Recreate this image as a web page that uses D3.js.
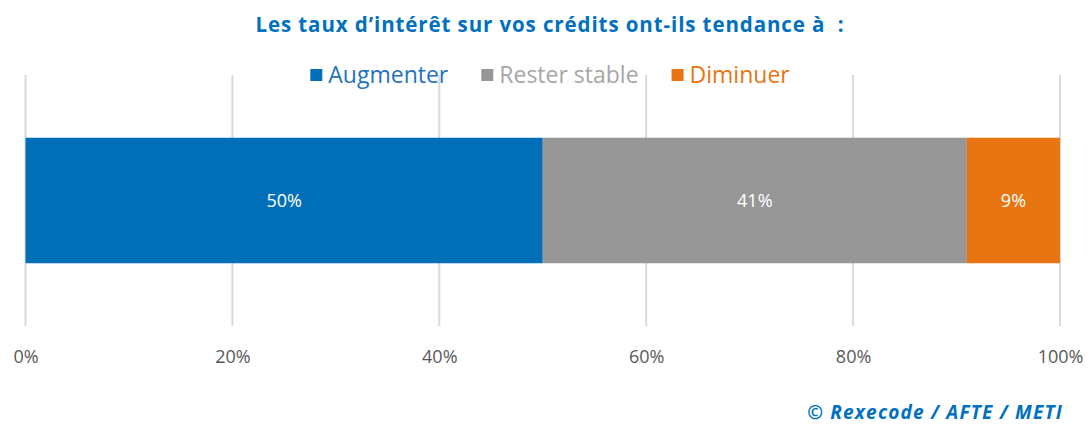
<!DOCTYPE html>
<html>
<head>
<meta charset="utf-8">
<script src="https://cdn.jsdelivr.net/npm/d3@7"></script>
<style>
  body { margin: 0; background: #fff; }
  text { font-family: "Open Sans", sans-serif; }
</style>
</head>
<body>
<div id="chart"></div>
<script>
// Chart data
const SERIES = ["Augmenter", "Rester stable", "Diminuer"];
const VALUES = [50, 41, 9];
const COLORS = ["#006fb8", "#979797", "#e87511"];
const TEXT_COLORS = ["#1f73be", "#a6a6a6", "#e87511"];
const TICKS = [0, 20, 40, 60, 80, 100];
const TITLE = "Les taux d\u2019intérêt sur vos crédits ont-ils tendance à \u00a0:";
const SOURCE = "© Rexecode / AFTE / METI";

const FRAME_WIDTH = 1091;
const FRAME_HEIGHT = 425;
const MARGINS = {left: 25.5, right: 31, top: 75, bottom: 99};

const svg = d3.select("#chart")
  .append("svg")
    .attr("width", FRAME_WIDTH)
    .attr("height", FRAME_HEIGHT);

const xScale = d3.scaleLinear()
  .domain([0, 100])
  .range([MARGINS.left, FRAME_WIDTH - MARGINS.right]);

const yScale = d3.scaleBand()
  .domain(["row"])
  .range([MARGINS.top, FRAME_HEIGHT - MARGINS.bottom])
  .paddingInner(0)
  .paddingOuter(0.5);

// gridlines
svg.append("g")
  .selectAll("line")
  .data(TICKS)
  .enter().append("line")
    .attr("x1", d => xScale(d))
    .attr("x2", d => xScale(d))
    .attr("y1", MARGINS.top)
    .attr("y2", FRAME_HEIGHT - MARGINS.bottom)
    .attr("stroke", "#d9d9d9")
    .attr("stroke-width", 2);

// x axis labels
const xAxis = svg.append("g")
  .attr("transform", "translate(0," + (FRAME_HEIGHT - MARGINS.bottom) + ")")
  .call(d3.axisBottom(xScale).tickValues(TICKS).tickFormat(d => d + "%").tickSize(0).tickPadding(24));
xAxis.select(".domain").remove();
xAxis.selectAll("text")
  .attr("font-family", "'Open Sans', sans-serif")
  .attr("font-size", 18)
  .attr("fill", "#595959");

// stacked bar
let cum = 0;
const stacked = VALUES.map((v, i) => {
  const seg = {name: SERIES[i], start: cum, end: cum + v, value: v, i: i};
  cum += v;
  return seg;
});

const bar = svg.append("g");
bar.selectAll("rect")
  .data(stacked)
  .enter().append("rect")
    .attr("x", d => xScale(d.start))
    .attr("y", yScale("row"))
    .attr("width", d => xScale(d.end) - xScale(d.start))
    .attr("height", yScale.bandwidth())
    .attr("fill", d => COLORS[d.i]);

bar.selectAll("text")
  .data(stacked)
  .enter().append("text")
    .attr("x", d => (xScale(d.start) + xScale(d.end)) / 2)
    .attr("y", yScale("row") + yScale.bandwidth() / 2)
    .attr("dy", "0.35em")
    .attr("text-anchor", "middle")
    .attr("font-size", 18)
    .attr("fill", "#fff")
    .text(d => d.value + "%");

// title
svg.append("text")
  .attr("x", 550)
  .attr("y", 32)
  .attr("text-anchor", "middle")
  .attr("font-size", 20.5)
  .attr("font-weight", "bold")
  .attr("letter-spacing", 0.9)
  .attr("fill", "#0070c0")
  .text(TITLE);

// legend, centred
const legend = svg.append("g").attr("transform", "translate(0,75)");
const items = legend.selectAll("g")
  .data(SERIES)
  .enter().append("g");
items.append("rect")
  .attr("width", 12)
  .attr("height", 12)
  .attr("y", -6)
  .attr("fill", (d, i) => COLORS[i]);
items.append("text")
  .attr("x", 18)
  .attr("dy", "0.35em")
  .attr("font-size", 23)
  .attr("fill", (d, i) => TEXT_COLORS[i])
  .text(d => d);

let lx = 0;
const widths = [];
items.each(function() {
  const w = 18 + d3.select(this).select("text").node().getComputedTextLength();
  widths.push(w);
});
const gap = 33;
const total = d3.sum(widths) + gap * (widths.length - 1);
lx = 550 - total / 2;
items.attr("transform", (d, i) => {
  const t = "translate(" + lx + ",0)";
  lx += widths[i] + gap;
  return t;
});

// source
svg.append("text")
  .attr("x", 1063)
  .attr("y", 419)
  .attr("text-anchor", "end")
  .attr("font-size", 19)
  .attr("font-weight", "bold")
  .attr("font-style", "italic")
  .attr("letter-spacing", 1.2)
  .attr("fill", "#0070c0")
  .text(SOURCE);
</script>
</body>
</html>
